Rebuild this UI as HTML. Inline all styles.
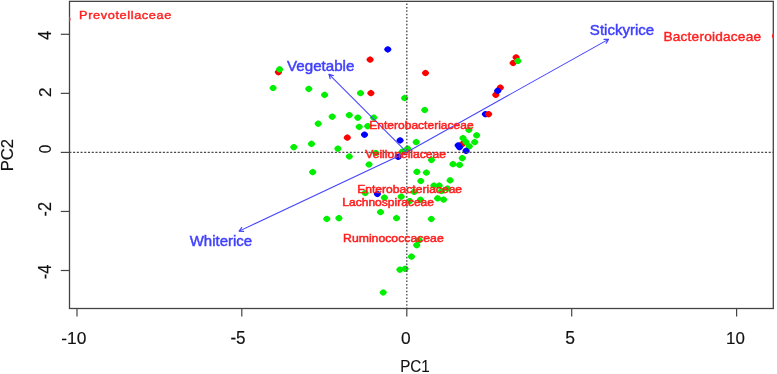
<!DOCTYPE html><html><head><meta charset="utf-8"><title>PCA biplot</title><style>html,body{margin:0;padding:0;background:#fff;width:777px;height:374px;overflow:hidden}svg{display:block;will-change:transform}text{font-family:"Liberation Sans",sans-serif}</style></head><body>
<svg width="777" height="374" viewBox="0 0 777 374">
<defs><path id="pt" d="M3.64,0.00 L3.49,0.60 L3.04,1.37 L2.36,2.11 L1.53,2.72 L0.67,3.11 L0.00,3.25 L-0.67,3.11 L-1.53,2.72 L-2.36,2.11 L-3.04,1.37 L-3.49,0.60 L-3.64,0.00 L-3.49,-0.60 L-3.04,-1.37 L-2.36,-2.11 L-1.53,-2.72 L-0.67,-3.11 L-0.00,-3.25 L0.67,-3.11 L1.53,-2.72 L2.36,-2.11 L3.04,-1.37 L3.49,-0.60Z"/><clipPath id="pc"><rect x="69.8" y="1.6" width="703.4" height="306.8"/></clipPath><clipPath id="oc"><rect x="69" y="0" width="705" height="374"/></clipPath></defs>
<g clip-path="url(#pc)">
<use href="#pt" x="278.4" y="72.2" fill="#ff0000"/>
<use href="#pt" x="279.6" y="69.3" fill="#00f000"/>
<use href="#pt" x="273.1" y="88.0" fill="#00f000"/>
<use href="#pt" x="308.8" y="88.9" fill="#00f000"/>
<use href="#pt" x="324.6" y="94.9" fill="#00f000"/>
<use href="#pt" x="387.8" y="49.4" fill="#0000ff"/>
<use href="#pt" x="370.1" y="59.6" fill="#ff0000"/>
<use href="#pt" x="425.5" y="73.0" fill="#ff0000"/>
<use href="#pt" x="360.5" y="93.1" fill="#00f000"/>
<use href="#pt" x="370.9" y="93.1" fill="#ff0000"/>
<use href="#pt" x="404.6" y="98.1" fill="#00f000"/>
<use href="#pt" x="424.7" y="110.0" fill="#00f000"/>
<use href="#pt" x="332.2" y="116.7" fill="#00f000"/>
<use href="#pt" x="349.3" y="115.1" fill="#00f000"/>
<use href="#pt" x="357.8" y="117.7" fill="#00f000"/>
<use href="#pt" x="373.7" y="117.7" fill="#00f000"/>
<use href="#pt" x="359.2" y="126.9" fill="#00f000"/>
<use href="#pt" x="367.7" y="126.2" fill="#00f000"/>
<use href="#pt" x="364.5" y="134.7" fill="#0000ff"/>
<use href="#pt" x="347.3" y="137.6" fill="#ff0000"/>
<use href="#pt" x="400.1" y="140.4" fill="#0000ff"/>
<use href="#pt" x="416.2" y="142.1" fill="#00f000"/>
<use href="#pt" x="337.9" y="148.7" fill="#00f000"/>
<use href="#pt" x="349.3" y="156.5" fill="#00f000"/>
<use href="#pt" x="407.6" y="148.6" fill="#00f000"/>
<use href="#pt" x="402.2" y="151.8" fill="#00f000"/>
<use href="#pt" x="398.2" y="156.8" fill="#0000ff"/>
<use href="#pt" x="369.0" y="164.5" fill="#00f000"/>
<use href="#pt" x="375.8" y="153.0" fill="#00f000"/>
<use href="#pt" x="318.2" y="123.7" fill="#00f000"/>
<use href="#pt" x="293.8" y="147.2" fill="#00f000"/>
<use href="#pt" x="311.5" y="143.8" fill="#00f000"/>
<use href="#pt" x="312.7" y="172.1" fill="#00f000"/>
<use href="#pt" x="516.1" y="57.4" fill="#ff0000"/>
<use href="#pt" x="513.1" y="63.0" fill="#ff0000"/>
<use href="#pt" x="517.9" y="61.0" fill="#00f000"/>
<use href="#pt" x="500.3" y="87.7" fill="#ff0000"/>
<use href="#pt" x="495.8" y="94.8" fill="#ff0000"/>
<use href="#pt" x="497.7" y="90.8" fill="#0000ff"/>
<use href="#pt" x="485.4" y="114.2" fill="#0000ff"/>
<use href="#pt" x="488.6" y="114.2" fill="#ff0000"/>
<use href="#pt" x="468.9" y="129.9" fill="#00f000"/>
<use href="#pt" x="476.6" y="135.3" fill="#00f000"/>
<use href="#pt" x="474.7" y="142.1" fill="#00f000"/>
<use href="#pt" x="462.2" y="144.2" fill="#ff0000"/>
<use href="#pt" x="463.0" y="138.2" fill="#00f000"/>
<use href="#pt" x="466.0" y="142.0" fill="#00f000"/>
<use href="#pt" x="469.3" y="146.3" fill="#00f000"/>
<use href="#pt" x="458.2" y="145.4" fill="#0000ff"/>
<use href="#pt" x="459.5" y="147.2" fill="#0000ff"/>
<use href="#pt" x="466.1" y="150.8" fill="#0000ff"/>
<use href="#pt" x="462.3" y="158.2" fill="#00f000"/>
<use href="#pt" x="453.0" y="164.1" fill="#00f000"/>
<use href="#pt" x="459.6" y="164.9" fill="#00f000"/>
<use href="#pt" x="431.5" y="160.0" fill="#00f000"/>
<use href="#pt" x="416.9" y="171.8" fill="#00f000"/>
<use href="#pt" x="426.4" y="172.6" fill="#00f000"/>
<use href="#pt" x="420.8" y="181.0" fill="#00f000"/>
<use href="#pt" x="450.1" y="180.3" fill="#00f000"/>
<use href="#pt" x="433.9" y="185.6" fill="#00f000"/>
<use href="#pt" x="439.2" y="185.6" fill="#00f000"/>
<use href="#pt" x="414.2" y="191.8" fill="#00f000"/>
<use href="#pt" x="401.2" y="196.7" fill="#00f000"/>
<use href="#pt" x="420.5" y="199.8" fill="#00f000"/>
<use href="#pt" x="409.7" y="201.0" fill="#00f000"/>
<use href="#pt" x="437.6" y="198.3" fill="#00f000"/>
<use href="#pt" x="443.6" y="199.6" fill="#00f000"/>
<use href="#pt" x="441.5" y="191.0" fill="#00f000"/>
<use href="#pt" x="447.5" y="188.5" fill="#00f000"/>
<use href="#pt" x="431.3" y="219.0" fill="#00f000"/>
<use href="#pt" x="365.2" y="193.0" fill="#00f000"/>
<use href="#pt" x="377.4" y="194.0" fill="#0000ff"/>
<use href="#pt" x="384.4" y="197.6" fill="#00f000"/>
<use href="#pt" x="380.5" y="212.1" fill="#00f000"/>
<use href="#pt" x="338.9" y="218.2" fill="#00f000"/>
<use href="#pt" x="396.5" y="218.1" fill="#00f000"/>
<use href="#pt" x="326.8" y="218.9" fill="#00f000"/>
<use href="#pt" x="419.1" y="240.1" fill="#00f000"/>
<use href="#pt" x="416.7" y="245.2" fill="#00f000"/>
<use href="#pt" x="411.5" y="256.6" fill="#00f000"/>
<use href="#pt" x="399.9" y="269.7" fill="#00f000"/>
<use href="#pt" x="405.1" y="268.8" fill="#00f000"/>
<use href="#pt" x="383.2" y="292.5" fill="#00f000"/>
</g>
<g stroke="#4a4a4a" stroke-width="1.15" fill="none">
<line x1="70" y1="152.4" x2="773" y2="152.4" stroke-dasharray="2.1 1.64" stroke-dashoffset="0.7"/>
<line x1="406.8" y1="2" x2="406.8" y2="308" stroke-width="1.35" stroke-dasharray="1.6 1.778" stroke-dashoffset="1.87"/>
</g>
<g stroke="#4444ff" stroke-width="1.05" fill="none" stroke-linecap="round">
<line x1="406.7" y1="152.2" x2="329.05" y2="74.4"/><polyline points="333.30,75.54 329.05,74.4 330.18,78.65" stroke-width="1.25" stroke-linejoin="round"/><polygon points="330.47,74.78 329.05,74.4 329.43,75.82" fill="#4444ff" stroke="none"/>
<line x1="406.7" y1="152.2" x2="608.4" y2="39.35"/><polyline points="606.15,43.13 608.4,39.35 604.00,39.29" stroke-width="1.25" stroke-linejoin="round"/><polygon points="607.65,40.61 608.4,39.35 606.93,39.33" fill="#4444ff" stroke="none"/>
<line x1="406.7" y1="152.2" x2="239.2" y2="231.1"/><polyline points="241.71,227.49 239.2,231.1 243.58,231.47" stroke-width="1.25" stroke-linejoin="round"/><polygon points="240.04,229.90 239.2,231.1 240.66,231.22" fill="#4444ff" stroke="none"/>
</g>
<text transform="translate(79.08,19.30) scale(1.12,1)" font-size="11.37" letter-spacing="0.553" fill="#ff1f1f" stroke="#ff1f1f" stroke-width="0.4">Prevotellaceae</text>
<text transform="translate(663.41,40.60) scale(1.12,1)" font-size="12.19" letter-spacing="0.191" fill="#ff1f1f" stroke="#ff1f1f" stroke-width="0.4">Bacteroidaceae</text>
<text transform="translate(369.29,129.35) scale(1.0725,1)" font-size="11.23" font-weight="normal" fill="#ff1f1f" stroke="#ff1f1f" stroke-width="0.5">Enterobacteriaceae</text>
<text transform="translate(365.23,157.65) scale(1.0799,1)" font-size="11.23" font-weight="normal" fill="#ff1f1f" stroke="#ff1f1f" stroke-width="0.5">Veillonellaceae</text>
<text transform="translate(357.18,192.55) scale(1.1197,1)" font-size="10.82" font-weight="normal" fill="#ff1f1f" stroke="#ff1f1f" stroke-width="0.5">Enterobacteriaceae</text>
<text transform="translate(342.29,205.85) scale(1.1283,1)" font-size="10.68" font-weight="normal" fill="#ff1f1f" stroke="#ff1f1f" stroke-width="0.5">Lachnospiraceae</text>
<text transform="translate(343.07,241.65) scale(1.0518,1)" font-size="11.64" font-weight="normal" fill="#ff1f1f" stroke="#ff1f1f" stroke-width="0.5">Ruminococcaceae</text>
<text transform="translate(189.67,245.68) scale(1.0379,1)" font-size="14.45" font-weight="normal" fill="#3f3fff" stroke="#3f3fff" stroke-width="0.45">Whiterice</text>
<text transform="translate(589.87,35.48) scale(1.0504,1)" font-size="14.32" font-weight="normal" fill="#3f3fff" stroke="#3f3fff" stroke-width="0.45">Stickyrice</text>
<text transform="translate(287.07,71.48) scale(1.0886,1)" font-size="13.90" font-weight="normal" fill="#3f3fff" stroke="#3f3fff" stroke-width="0.45">Vegetable</text>
<rect x="69.5" y="1.35" width="703.8" height="307.15" fill="none" stroke="#444" stroke-width="1.3"/>
<g clip-path="url(#oc)"><ellipse cx="67.2" cy="19.2" rx="3.3" ry="3.0" fill="#ff2020"/><ellipse cx="775.2" cy="36" rx="3.3" ry="3.0" fill="#ff2020"/></g>
<g stroke="#444" stroke-width="1.2">
<line x1="77.0" y1="308.4" x2="77.0" y2="316.4"/>
<line x1="241.8" y1="308.4" x2="241.8" y2="316.4"/>
<line x1="406.8" y1="308.4" x2="406.8" y2="316.4"/>
<line x1="571.7" y1="308.4" x2="571.7" y2="316.4"/>
<line x1="736.6" y1="308.4" x2="736.6" y2="316.4"/>
<line x1="60.8" y1="34.3" x2="69.5" y2="34.3"/>
<line x1="60.8" y1="93.35" x2="69.5" y2="93.35"/>
<line x1="60.8" y1="152.4" x2="69.5" y2="152.4"/>
<line x1="60.8" y1="211.45" x2="69.5" y2="211.45"/>
<line x1="60.8" y1="270.5" x2="69.5" y2="270.5"/>
</g>
<text transform="translate(61.28,344.03) scale(1.0198,1)" font-size="17.07" font-weight="normal" fill="#111" stroke="#111" stroke-width="0.15">-10</text>
<text transform="translate(230.39,344.12) scale(0.9791,1)" font-size="17.46" font-weight="normal" fill="#111" stroke="#111" stroke-width="0.15">-5</text>
<text transform="translate(401.08,344.03) scale(1.0452,1)" font-size="16.64" font-weight="normal" fill="#111" stroke="#111" stroke-width="0.15">0</text>
<text transform="translate(565.17,344.23) scale(0.9968,1)" font-size="17.61" font-weight="normal" fill="#111" stroke="#111" stroke-width="0.15">5</text>
<text transform="translate(726.12,344.03) scale(0.9911,1)" font-size="17.07" font-weight="normal" fill="#111" stroke="#111" stroke-width="0.15">10</text>
<text transform="translate(400.16,372.12) scale(0.8825,1)" font-size="17.21" font-weight="normal" fill="#111" stroke="#111" stroke-width="0.15">PC1</text>
<text transform="translate(50.92,39.85) rotate(-90) scale(0.9187,1)" font-size="17.61" font-weight="normal" fill="#111" stroke="#111" stroke-width="0.15">4</text>
<text transform="translate(50.92,97.08) rotate(-90) scale(1.0081,1)" font-size="16.93" font-weight="normal" fill="#111" stroke="#111" stroke-width="0.15">2</text>
<text transform="translate(50.92,153.34) rotate(-90) scale(0.8822,1)" font-size="17.36" font-weight="normal" fill="#111" stroke="#111" stroke-width="0.15">0</text>
<text transform="translate(50.92,216.38) rotate(-90) scale(0.9321,1)" font-size="17.50" font-weight="normal" fill="#111" stroke="#111" stroke-width="0.15">-2</text>
<text transform="translate(50.82,279.29) rotate(-90) scale(0.9384,1)" font-size="17.61" font-weight="normal" fill="#111" stroke="#111" stroke-width="0.15">-4</text>
<text transform="translate(13.33,171.36) rotate(-90) scale(0.9639,1)" font-size="17.36" font-weight="normal" fill="#111" stroke="#111" stroke-width="0.15">PC2</text>
</svg></body></html>
